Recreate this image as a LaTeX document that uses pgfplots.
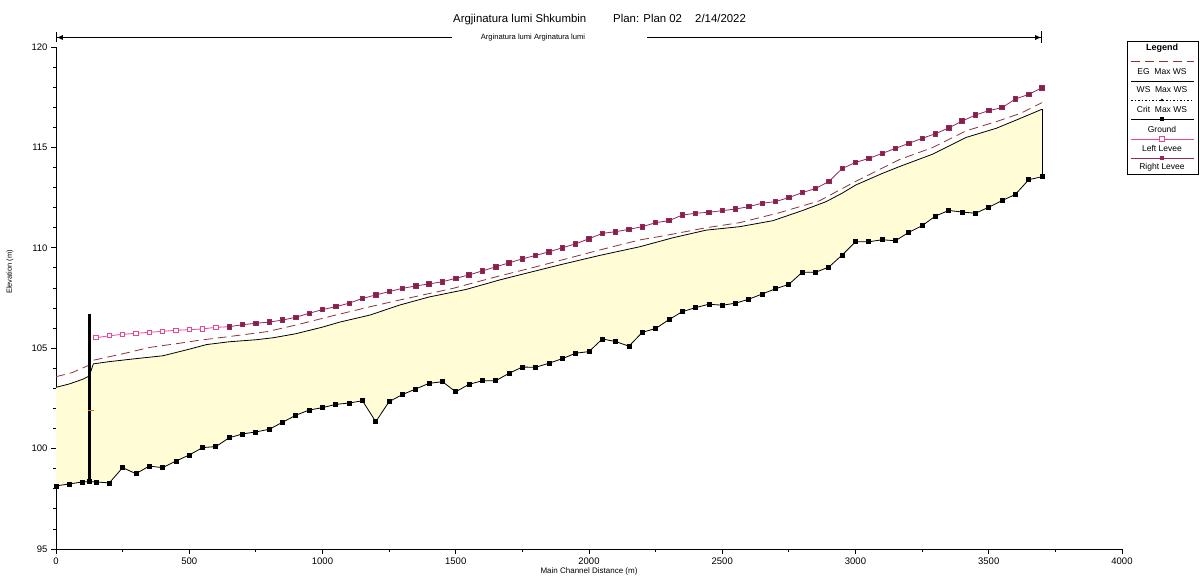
\documentclass[border=0pt]{standalone}
\usepackage{fontspec}
\setmainfont{Liberation Sans}
\usepackage{pgfplots}
\pgfplotsset{compat=1.18}
\usepackage{pgfplotstable}
\usepgfplotslibrary{fillbetween}
\usetikzlibrary{arrows.meta}

\definecolor{wsfill}{RGB}{255,252,214}
\definecolor{egcol}{RGB}{140,50,50}
\definecolor{leftlev}{RGB}{235,70,150}
\definecolor{rightlev}{RGB}{150,40,90}

% Ground profile (main channel distance in m, elevation in m)
\pgfplotstableread{
d e
0 98.14
50 98.24
100 98.34
125 98.35
150 98.34
200 98.29
250 99.05
300 98.75
350 99.13
400 99.05
450 99.38
500 99.68
550 100.05
600 100.10
650 100.54
700 100.73
750 100.83
800 100.96
850 101.31
900 101.66
950 101.92
1000 102.04
1050 102.20
1100 102.27
1150 102.38
1200 101.34
1250 102.34
1300 102.69
1350 102.97
1400 103.25
1450 103.33
1500 102.83
1550 103.20
1600 103.38
1650 103.38
1700 103.75
1750 104.06
1800 104.05
1850 104.25
1900 104.48
1950 104.75
2000 104.83
2050 105.46
2100 105.33
2150 105.10
2200 105.79
2250 105.98
2300 106.42
2350 106.82
2400 107.02
2450 107.19
2500 107.14
2550 107.24
2600 107.44
2650 107.70
2700 107.96
2750 108.18
2800 108.78
2850 108.78
2900 109.04
2950 109.64
3000 110.30
3050 110.30
3100 110.40
3150 110.35
3200 110.77
3250 111.10
3300 111.58
3350 111.86
3400 111.78
3450 111.72
3500 112.02
3550 112.35
3600 112.66
3650 113.39
3700 113.54
}\ground

% Water surface, max WS
\pgfplotstableread{
d e
0 103.05
50 103.22
100 103.45
125 103.62
140 104.22
200 104.33
300 104.48
400 104.62
500 104.95
565 105.18
650 105.32
750 105.42
815 105.52
900 105.72
1000 106.05
1065 106.30
1178 106.65
1290 107.15
1400 107.55
1540 107.93
1665 108.40
1800 108.85
1900 109.18
2040 109.62
2190 110.05
2315 110.50
2440 110.88
2565 111.05
2690 111.35
2800 111.85
2890 112.30
2950 112.72
3000 113.12
3100 113.70
3166 114.05
3291 114.67
3416 115.50
3528 115.95
3603 116.36
3700 116.90
}\wsmax

% Energy grade line, max WS
\pgfplotstableread{
d e
0 103.58
60 103.78
125 104.16
140 104.40
250 104.72
352 105.04
450 105.22
540 105.40
650 105.58
790 105.82
900 106.15
1040 106.62
1190 107.10
1290 107.40
1490 107.98
1650 108.55
1800 109.05
1900 109.40
2040 109.89
2190 110.39
2290 110.62
2440 111.00
2565 111.25
2715 111.75
2865 112.34
2950 112.95
3000 113.30
3166 114.40
3291 115.00
3416 115.83
3528 116.28
3620 116.70
3700 117.23
}\egmax

% Left levee
\pgfplotstableread{
d e
150 105.52
200 105.62
250 105.69
300 105.74
350 105.79
400 105.84
450 105.89
500 105.92
550 105.96
600 106.04
650 106.07
}\leftlevee

% Right levee
\pgfplotstableread{
d e
650 106.07
700 106.17
750 106.24
800 106.30
850 106.40
900 106.54
950 106.74
1000 106.92
1050 107.07
1100 107.24
1150 107.48
1200 107.65
1250 107.82
1300 107.98
1350 108.10
1400 108.20
1450 108.31
1500 108.48
1550 108.65
1600 108.85
1650 109.05
1700 109.25
1750 109.45
1800 109.62
1850 109.80
1900 110.00
1950 110.20
2000 110.45
2050 110.72
2100 110.80
2150 110.92
2200 111.05
2250 111.25
2300 111.35
2350 111.63
2400 111.72
2450 111.77
2500 111.85
2550 111.93
2600 112.05
2650 112.22
2700 112.30
2750 112.50
2800 112.75
2850 112.95
2900 113.30
2950 113.95
3000 114.25
3050 114.45
3100 114.70
3150 114.95
3200 115.20
3250 115.45
3300 115.68
3350 115.97
3400 116.31
3450 116.61
3500 116.83
3550 116.98
3600 117.41
3650 117.64
3700 117.97
}\rightlevee

\begin{document}
\begin{tikzpicture}

\begin{axis}[
  at={(56pt,28pt)}, anchor=south west,
  scale only axis, width=1066pt, height=502pt,
  xmin=0, xmax=4000, ymin=95, ymax=120,
  axis lines=left, axis line style={-, line width=0.9pt},
  xtick={0,500,...,4000}, ytick={95,100,...,120},
  minor x tick num=1, minor y tick num=4,
  tick align=outside, major tick length=5pt, minor tick length=3pt,
  tick style={black, line width=0.8pt},
  scaled x ticks=false,
  /pgf/number format/1000 sep={},
  /pgf/number format/assume math mode=true,
  ticklabel style={font=\fontsize{9.5}{11}\selectfont},
  xlabel={Main Channel Distance (m)},
  xlabel style={at={(axis description cs:0.5,0)}, anchor=center, yshift=-22pt,
    font=\fontsize{8}{9}\selectfont},
  ylabel={Elevation (m)},
  ylabel style={at={(axis description cs:-0.0432,0.552)}, anchor=center,
    font=\fontsize{7.5}{9}\selectfont},
]
% water body between the water surface and the ground
\addplot[name path=ws, draw=none] table[x=d,y=e] {\wsmax};
\addplot[name path=gnd, draw=none] table[x=d,y=e] {\ground};
\addplot[wsfill] fill between[of=ws and gnd];

% energy grade line
\addplot[egcol, line width=0.8pt, dash pattern=on 9pt off 5pt] table[x=d,y=e] {\egmax};
% water surface
\addplot[black, line width=0.8pt] table[x=d,y=e] {\wsmax};

% left and right levees
\addplot[leftlev, line width=0.8pt, mark=square*, mark size=2.2pt,
  mark options={fill=white, draw=leftlev, line width=1pt}] table[x=d,y=e] {\leftlevee};
\addplot[rightlev, line width=0.8pt, mark=square*, mark size=2.2pt,
  mark options={fill=rightlev!85!black, draw=rightlev}] table[x=d,y=e] {\rightlevee};

% bank at the upstream end and the structure near station 125
\addplot[black, line width=2.4pt] coordinates {(125,98.35) (125,106.7)};
\addplot[black, line width=0.9pt] coordinates {(3700,113.54) (3700,116.90)};

% ground profile
\addplot[black, line width=0.8pt, mark=square*, mark size=2pt] table[x=d,y=e] {\ground};

% critical water surface
\addplot[only marks, mark=-, mark size=3pt, color=orange!80!red, line width=1pt]
  coordinates {(132,101.9)};
\end{axis}

\begin{scope}[x=1pt,y=1pt]
% reach marker above the plot
\draw[line width=0.8pt, {Bar[width=10pt]Latex[length=6pt,width=5pt]}-] (56,539.5) -- (452,539.5);
\draw[line width=0.8pt, -{Latex[length=6pt,width=5pt]Bar[width=12pt]}] (647,539.5) -- (1042,539.5);
\node[font=\fontsize{7.6}{9}\selectfont, anchor=center] at (533,539.5) {Arginatura lumi Arginatura lumi};

% title
\node[font=\fontsize{11.4}{13}\selectfont, anchor=base west, inner sep=0pt] at (453,554.7) {Argjinatura lumi Shkumbin};
\node[font=\fontsize{11.4}{13}\selectfont, anchor=base west, inner sep=0pt] at (613,554.7) {Plan: Plan 02};
\node[font=\fontsize{11.4}{13}\selectfont, anchor=base west, inner sep=0pt] at (695,554.7) {2/14/2022};

% legend
\begin{scope}[font=\fontsize{8.5}{10}\selectfont]
\draw[line width=0.8pt] (1127,536) rectangle (1198,403);
\node[font=\bfseries\fontsize{9}{10}\selectfont] at (1162,529) {Legend};
\draw[egcol, line width=0.8pt, dash pattern=on 9pt off 5pt] (1131,516) -- (1194,516);
\node at (1162,505) {EG\; Max WS};
\draw[black, line width=0.8pt] (1131,496) -- (1194,496);
\node at (1162,487) {WS\; Max WS};
\draw[black, line width=0.7pt, dash pattern=on 1.5pt off 2pt] (1131,477) -- (1194,477);
\fill[black] (1162,477) circle (1.3pt);
\node at (1162,468) {Crit\; Max WS};
\draw[black, line width=0.8pt] (1131,458) -- (1194,458);
\fill[black] (1160,456) rectangle (1164,460);
\node at (1162,448) {Ground};
\draw[leftlev, line width=0.8pt] (1131,438) -- (1194,438);
\draw[leftlev, fill=white, line width=1pt] (1159.8,435.8) rectangle (1164.2,440.2);
\node at (1162,429) {Left Levee};
\draw[rightlev, line width=0.8pt] (1131,419) -- (1194,419);
\fill[rightlev] (1159.8,416.8) rectangle (1164.2,421.2);
\node at (1162,410) {Right Levee};
\end{scope}

% page frame
\pgfresetboundingbox
\path[use as bounding box] (0,0) rectangle (1200,577);
\end{scope}
\end{tikzpicture}
\end{document}
